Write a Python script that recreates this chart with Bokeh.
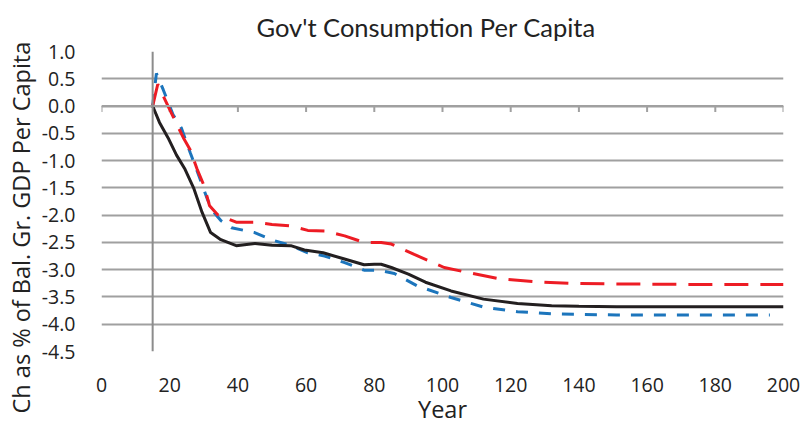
from bokeh.plotting import figure
from bokeh.models import Range1d, FixedTicker, PrintfTickFormatter, Span, ColumnDataSource, Title
from bokeh.embed import file_html
from bokeh.resources import INLINE

# ---- data ----
x_ticks = [0, 20, 40, 60, 80, 100, 120, 140, 160, 180, 200]
y_ticks = [1.0, 0.5, 0.0, -0.5, -1.0, -1.5, -2.0, -2.5, -3.0, -3.5, -4.0, -4.5]

years_black = [15, 17, 19.5, 22, 24.5, 27, 29.5, 32, 35, 39.5, 45, 50, 55.5, 59.5, 65, 71, 77,
               80, 82, 85, 90, 95, 102.5, 112, 122, 132, 140, 151, 165, 180, 200]
black = [0, -0.3, -0.58, -0.9, -1.16, -1.5, -1.95, -2.32, -2.45, -2.56, -2.52, -2.55, -2.56,
         -2.64, -2.69, -2.8, -2.91, -2.9, -2.9, -2.96, -3.08, -3.23, -3.39, -3.54, -3.62,
         -3.66, -3.67, -3.68, -3.68, -3.68, -3.68]

years_red = [15, 16.5, 18, 20.5, 24, 26, 28, 30, 31.7, 34, 39.5, 45, 50, 55.6, 60.5, 65.4, 71.3,
             77, 80, 82, 85, 91.7, 100.5, 107.3, 117, 127, 137, 150, 170, 200]
red = [0, 0.4, 0.2, -0.13, -0.58, -0.8, -1.15, -1.45, -1.83, -1.99, -2.13, -2.13, -2.17, -2.2,
       -2.28, -2.29, -2.38, -2.5, -2.5, -2.5, -2.53, -2.72, -2.96, -3.05, -3.17, -3.22, -3.25,
       -3.26, -3.27, -3.27]

years_blue = [15, 16.1, 18.1, 21, 23.4, 26, 28.8, 31, 32.7, 35, 38.1, 44.9, 50.3, 55.6, 60.5,
              65.4, 71.3, 77, 80, 82, 85.9, 92.7, 102.5, 112.2, 122, 131.8, 140, 151, 170, 196]
blue = [0, 0.6, 0.3, -0.16, -0.4, -0.85, -1.32, -1.7, -1.93, -2.1, -2.23, -2.32, -2.46, -2.56,
        -2.69, -2.75, -2.87, -3.01, -3.01, -3.02, -3.07, -3.3, -3.51, -3.69, -3.77, -3.81,
        -3.82, -3.83, -3.83, -3.83]

title_text = "Gov't Consumption Per Capita"
x_title = "Year"
y_title = "Ch as % of Bal. Gr. GDP Per Capita"

FONT = "Open Sans"
GRID = "#a0a0a0"
TXT = "#222222"

p = figure(width=803, height=430, output_backend="svg", toolbar_location=None,
           x_range=Range1d(0, 200), y_range=Range1d(-4.5, 1.0),
           min_border_left=100, min_border_right=20, min_border_top=50, min_border_bottom=79,
           title=title_text)
p.outline_line_color = None
p.background_fill_color = "white"
p.border_fill_color = "white"

p.title.align = "left"
p.title.offset = 155
p.title.standoff = 19
p.title.text_font = "Lato"
p.title.text_font_size = "25.5px"
p.title.text_font_style = "normal"
p.title.text_color = TXT

p.xgrid.grid_line_color = None
p.ygrid.grid_line_color = GRID
p.ygrid.grid_line_width = 2
p.ygrid.ticker = FixedTicker(ticks=y_ticks)

p.xaxis.ticker = FixedTicker(ticks=x_ticks)
p.yaxis.ticker = FixedTicker(ticks=y_ticks)
p.yaxis.formatter = PrintfTickFormatter(format="%.1f")

for ax in (p.xaxis[0], p.yaxis[0]):
    ax.axis_line_color = None
    ax.major_tick_line_color = None
    ax.minor_tick_line_color = None
    ax.major_label_text_font = FONT
    ax.major_label_text_font_size = "19.5px"
    ax.major_label_text_color = TXT
    ax.axis_label_text_font = FONT
    ax.axis_label_text_font_size = "23.5px"
    ax.axis_label_text_font_style = "normal"
    ax.axis_label_text_color = TXT

p.xaxis.axis_label = x_title
p.xaxis.major_label_standoff = 20
p.xaxis.axis_label_standoff = -2
p.yaxis.major_label_standoff = 20

# rotated y-axis title in the left panel, shifted down like the reference
ytitle = Title(text=y_title, align="left", offset=-62, standoff=4,
               text_font=FONT, text_font_size="23.5px", text_font_style="normal",
               text_color=TXT)
p.add_layout(ytitle, "left")

# horizontal axis crossing at 0 with tick marks, vertical axis at year 15
p.add_layout(Span(location=0, dimension="width", line_color=GRID, line_width=2))
p.add_layout(Span(location=15, dimension="height", line_color="#8c8c8c", line_width=2))
tick_src = ColumnDataSource(dict(x=x_ticks, y0=[0.0] * len(x_ticks), y1=[-0.11] * len(x_ticks)))
p.segment(x0="x", x1="x", y0="y0", y1="y1", source=tick_src, line_color=GRID, line_width=2)

p.line(years_blue, blue, line_color="#1c75bc", line_width=3, line_dash="12 11")
p.line(years_red, red, line_color="#ed1c24", line_width=3, line_dash="24 12")
p.line(years_black, black, line_color="#231f20", line_width=3)

open("out.html", "w").write(file_html(p, INLINE))
